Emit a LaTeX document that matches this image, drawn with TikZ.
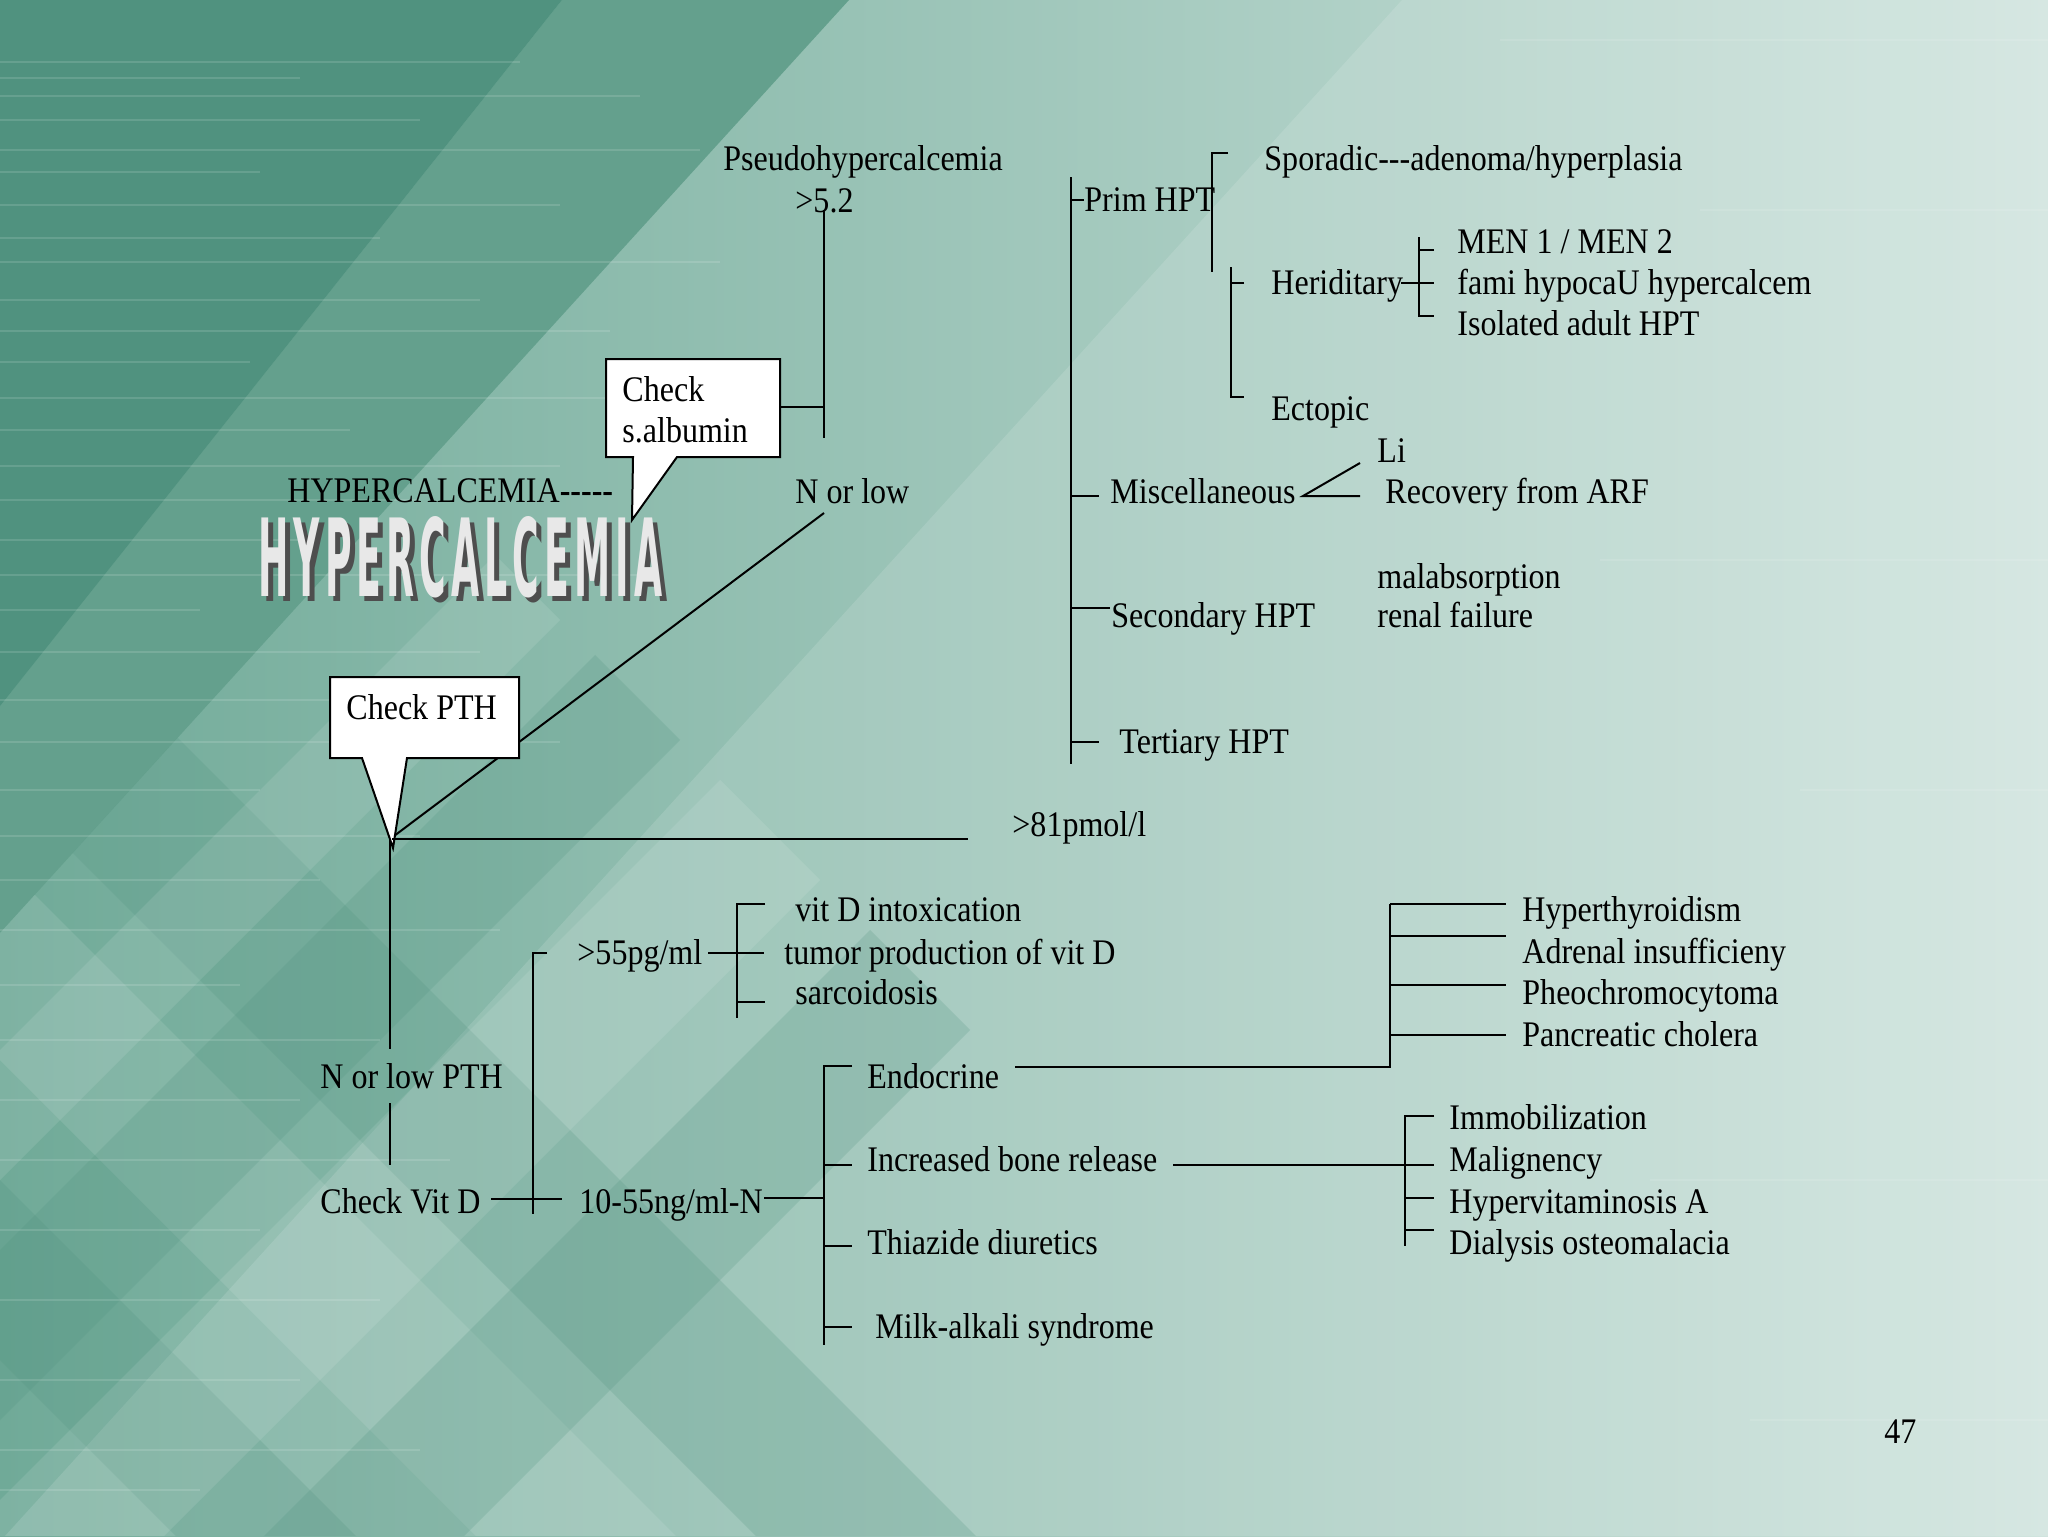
\documentclass[tikz,border=0pt]{standalone}
\usepackage{fontspec}
\newfontfamily\dgf{Liberation Serif}[FakeStretch=0.89]
\newfontfamily\waf{DejaVu Sans}[LetterSpace=14]
\definecolor{bgL}{RGB}{112,170,152}
\definecolor{bgR}{RGB}{208,228,222}
\definecolor{bgD}{RGB}{80,146,127}
\definecolor{bgM}{RGB}{100,160,141}
\definecolor{waShadow}{RGB}{78,78,78}
\definecolor{waFront}{RGB}{232,232,232}
\begin{document}
\begin{tikzpicture}[x=0.5pt,y=-0.5pt,
  ln/.style={line width=1pt},
  txt/.style={inner sep=0pt, anchor=mid west, yshift=-3.5pt, font=\dgf\fontsize{18}{21}\selectfont},
  cbox/.style={draw, fill=white, line width=1pt, line join=miter},
  streak/.style={white, opacity=0.13, line width=1.2pt},
  dband/.style={fill=bgD, opacity=0.22},
  lband/.style={fill=white, opacity=0.10}]
\useasboundingbox (0,0) rectangle (2048,1536);
% ---------------- background ----------------
\begin{scope}
\clip (0,0) rectangle (2048,1536);
\shade[left color=bgL, right color=bgR] (0,0) rectangle (2048,1536);
\fill[white, opacity=0.13] (1402,0) -- (2048,0) -- (2048,1536) -- (5,1536) -- cycle;
\fill[bgM] (562,0) -- (849,0) -- (0,933) -- (0,706) -- cycle;
\fill[bgD] (0,0) -- (562,0) -- (0,706) -- cycle;
\begin{scope}
\clip (416,476) -- (0,933) -- (0,1536) -- (1476,1536) -- cycle;
% argyle: "\" bands
\path[dband] (0,560) -- (0,780) -- (756,1536) -- (976,1536) -- cycle;
\path[lband] (0,860) -- (0,1060) -- (476,1536) -- (676,1536) -- cycle;
\path[dband] (0,1180) -- (0,1360) -- (176,1536) -- (356,1536) -- cycle;
% argyle: "/" bands
\path[lband] (0,1050) -- (1050,0) -- (1180,0) -- (0,1180) -- cycle;
\path[dband] (0,1250) -- (1250,0) -- (1420,0) -- (0,1420) -- cycle;
\path[lband] (0,1500) -- (1500,0) -- (1700,0) -- (0,1700) -- cycle;
\path[dband] (0,1800) -- (1800,0) -- (2000,0) -- (0,2000) -- cycle;
\end{scope}
\foreach \yy/\ll in {62/520,78/300,96/640,120/420,150/700,172/260,205/560,238/380,262/720,300/480,331/610,362/250,398/680,430/350,466/560,500/420,540/300,575/640,610/200,652/480,700/360,742/560,790/260,836/420,880/320,930/500,985/240,1040/380,1100/300,1160/450,1230/260,1300/380,1380/300,1450/420,1490/200}
  \draw[streak] (0,\yy) -- (\ll,\yy);
\foreach \yy/\aa/\ll in {40/1500/2048,210/1700/2048,560/1600/2048,790/1800/2048,1180/1650/2048,1420/1750/2048}
  \draw[streak, opacity=0.10] (\aa,\yy) -- (\ll,\yy);
\end{scope}
% ---------------- word art ----------------
\node[inner sep=0pt, anchor=north west, text=waShadow] (washadow) at (263,521)
  {\resizebox{202pt}{40pt}{\waf\bfseries HYPERCALCEMIA}};
\node[inner sep=0pt, anchor=north west, text=waFront] (wafront) at (258,516)
  {\resizebox{202pt}{40pt}{\waf\bfseries HYPERCALCEMIA}};
% ---------------- left / top part ----------------
\node[txt] (pseudo) at (723,159) {Pseudohypercalcemia};
\node[txt] (gt52) at (795,201) {>5.2};
\coordinate (pTop) at (824,210);
\coordinate (pBot) at (824,438);
\coordinate (pMid) at (824,407);
\draw[ln] (pTop) -- (pBot);
\node[txt] (hyper) at (287,491) {HYPERCALCEMIA\textbf{-----}};
\node[txt] (nlow) at (795,492) {N or low};
\coordinate (dStart) at (824,513);
\coordinate (dEnd) at (394,836);
\draw[ln] (dStart) -- (dEnd);
% albumin callout
\draw[cbox] (606,359) -- (780,359) -- (780,457) -- (677,457) -- (632,520) -- (633,457) -- (606,457) -- cycle;
\node[txt] (chk1) at (622,390) {Check};
\node[txt] (chk2) at (622,431) {s.albumin};
\coordinate (albR) at (780,407);
\draw[ln] (albR) -- (pMid);
% PTH callout
\draw[cbox] (330,677) -- (519,677) -- (519,758) -- (407,758) -- (393,848) -- (362,758) -- (330,758) -- cycle;
\node[txt] (pth) at (346,708) {Check PTH};
\coordinate (hStart) at (392,839);
\coordinate (hEnd) at (968,839);
\draw[ln] (hStart) -- (hEnd);
\node[txt] (gt81) at (1012,825) {>81pmol/l};
\node[txt] (nlowpth) at (320,1077) {N or low PTH};
\node[txt] (chkvitd) at (320,1202) {Check Vit D};
\coordinate (v1a) at (390,839);
\coordinate (v1b) at (390,1049);
\coordinate (v1c) at (390,1103);
\coordinate (v1d) at (390,1165);
\draw[ln] (v1a) -- (v1b);
\draw[ln] (v1c) -- (v1d);
% vit D bracket
\coordinate (cvR) at (491,1199);
\coordinate (cvE) at (562,1199);
\draw[ln] (cvR) -- (cvE);
\draw[ln] (547,953) -- (533,953) -- (533,1214);
\node[txt] (gt55) at (577,953) {>55pg/ml};
\coordinate (g55R) at (708,953);
\coordinate (g55E) at (764,953);
\draw[ln] (g55R) -- (g55E);
\draw[ln] (765,904) -- (737,904) -- (737,1018);
\draw[ln] (737,1002) -- (765,1002);
\node[txt] (vdi) at (795,910) {vit D intoxication};
\node[txt] (tpv) at (784,953) {tumor production of vit D};
\node[txt] (sarc) at (795,993) {sarcoidosis};
\node[txt] (n1055) at (579,1202) {10-55ng/ml-N};
\coordinate (nR) at (764,1198);
\coordinate (nE) at (824,1198);
\draw[ln] (nR) -- (nE);
\draw[ln] (852,1066) -- (824,1066) -- (824,1345);
\foreach \yy in {1165,1246,1327} \draw[ln] (824,\yy) -- (852,\yy);
\node[txt] (endo) at (867,1077) {Endocrine};
\node[txt] (ibr) at (867,1160) {Increased bone release};
\node[txt] (thia) at (867,1243) {Thiazide diuretics};
\node[txt] (milk) at (875,1327) {Milk-alkali syndrome};
% endocrine branch
\coordinate (eA) at (1015,1067);
\coordinate (eB) at (1390,1067);
\coordinate (eC) at (1390,904);
\draw[ln] (eA) -- (eB) -- (eC);
\foreach \yy in {904,936,985,1035} \draw[ln] (1390,\yy) -- (1506,\yy);
\node[txt] (hthy) at (1522,910) {Hyperthyroidism};
\node[txt] (adr) at (1522,952) {Adrenal insufficieny};
\node[txt] (pheo) at (1522,993) {Pheochromocytoma};
\node[txt] (panc) at (1522,1035) {Pancreatic cholera};
% bone release branch
\coordinate (bA) at (1173,1165);
\coordinate (bB) at (1434,1165);
\draw[ln] (bA) -- (bB);
\draw[ln] (1434,1116) -- (1405,1116) -- (1405,1246);
\foreach \yy in {1198,1230} \draw[ln] (1405,\yy) -- (1434,\yy);
\node[txt] (immo) at (1449,1118) {Immobilization};
\node[txt] (mali) at (1449,1160) {Malignency};
\node[txt] (hypa) at (1449,1202) {Hypervitaminosis A};
\node[txt] (dial) at (1449,1243) {Dialysis osteomalacia};
% ---------------- right / top tree ----------------
\coordinate (mTop) at (1071,177);
\coordinate (mBot) at (1071,764);
\draw[ln] (mTop) -- (mBot);
\draw[ln] (1071,200) -- (1084,200);
\node[txt] (prim) at (1084,200) {Prim HPT};
\draw[ln] (1228,153) -- (1212,153) -- (1212,272);
\node[txt] (spor) at (1264,159) {Sporadic---adenoma/hyperplasia};
\draw[ln] (1244,283) -- (1231,283);
\draw[ln] (1231,267) -- (1231,397) -- (1244,397);
\node[txt] (herid) at (1271,283) {Heriditary};
\node[txt] (ecto) at (1271,409) {Ectopic};
\draw[ln] (1401,283) -- (1434,283);
\draw[ln] (1434,250) -- (1419,250);
\draw[ln] (1419,237) -- (1419,316) -- (1434,316);
\node[txt] (men) at (1457,242) {MEN 1 / MEN 2};
\node[txt] (fami) at (1457,283) {fami hypocaU hypercalcem};
\node[txt] (iso) at (1457,324) {Isolated adult HPT};
\draw[ln] (1071,496) -- (1099,496);
\node[txt] (misc) at (1110,492) {Miscellaneous};
\coordinate (mv) at (1303,496);
\draw[ln] (1360,463) -- (mv) -- (1360,496);
\node[txt] (li) at (1377,451) {Li};
\node[txt] (arf) at (1385,492) {Recovery from ARF};
\node[txt] (malab) at (1377,577) {malabsorption};
\node[txt] (renal) at (1377,616) {renal failure};
\draw[ln] (1071,608) -- (1110,608);
\node[txt] (sec) at (1111,616) {Secondary HPT};
\draw[ln] (1071,742) -- (1099,742);
\node[txt] (tert) at (1119,742) {Tertiary HPT};
\node[txt] (pg) at (1884,1432) {47};
\end{tikzpicture}
\end{document}
